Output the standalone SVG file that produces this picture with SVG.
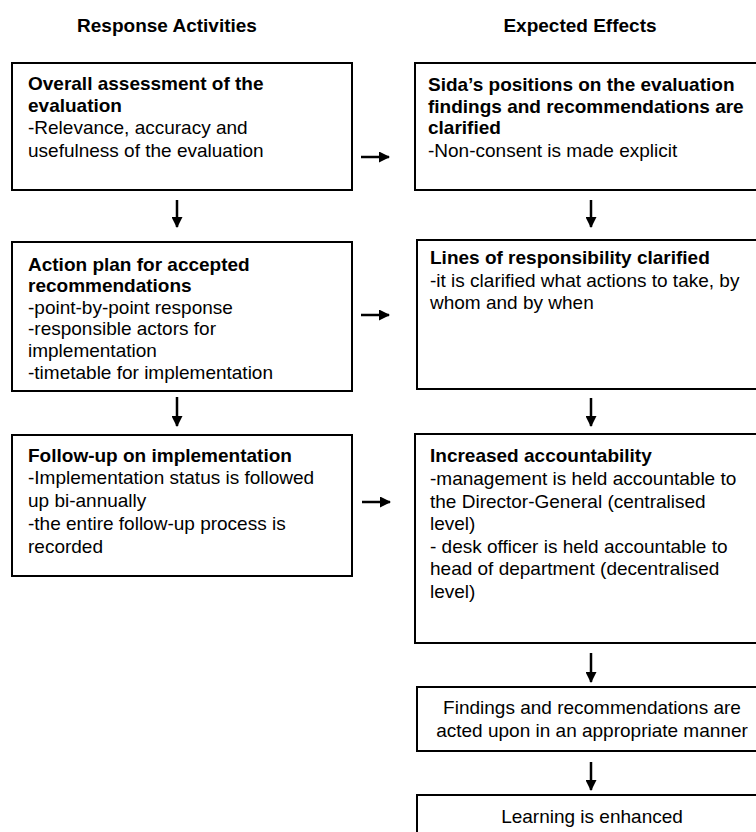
<svg xmlns="http://www.w3.org/2000/svg" width="756" height="832" viewBox="0 0 756 832">
<defs>
<style>
.box{fill:#fff;stroke:#000;stroke-width:2}
text{font-family:"Liberation Sans",Arial,sans-serif;font-size:19px;fill:#000}
.b{font-weight:bold}
.c{text-anchor:middle}
.arr{stroke:#000;stroke-width:2.5;fill:none;marker-end:url(#ah)}
</style>
<marker id="ah" markerWidth="11" markerHeight="11" refX="10" refY="5.5" orient="auto" markerUnits="userSpaceOnUse"><path d="M0,0 L11,5.5 L0,11 z" fill="#000"/></marker>
</defs>
<rect width="756" height="832" fill="#fff"/>
<g id="headers">
<text class="b c" x="167" y="32">Response Activities</text>
<text class="b c" x="580" y="32">Expected Effects</text>
</g>
<g id="n-assessment">
<rect class="box" x="12" y="63" width="340" height="127"/>
<text class="b" x="28" y="89.5">Overall assessment of the</text>
<text class="b" x="28" y="112">evaluation</text>
<text x="28" y="134">-Relevance, accuracy and</text>
<text x="28" y="156.5">usefulness of the evaluation</text>
</g>
<g id="n-actionplan">
<rect class="box" x="12" y="242" width="340" height="149"/>
<text class="b" x="28" y="271">Action plan for accepted</text>
<text class="b" x="28" y="292">recommendations</text>
<text x="28" y="313.5">-point-by-point response</text>
<text x="28" y="335">-responsible actors for</text>
<text x="28" y="357">implementation</text>
<text x="28" y="379">-timetable for implementation</text>
</g>
<g id="n-followup">
<rect class="box" x="12" y="435" width="340" height="141"/>
<text class="b" x="28" y="462">Follow-up on implementation</text>
<text x="28" y="484">-Implementation status is followed</text>
<text x="28" y="507">up bi-annually</text>
<text x="28" y="530">-the entire follow-up process is</text>
<text x="28" y="553">recorded</text>
</g>
<g id="n-positions">
<rect class="box" x="415" y="63" width="360" height="127"/>
<text class="b" x="428" y="90.5">Sida’s positions on the evaluation</text>
<text class="b" x="428" y="113">findings and recommendations are</text>
<text class="b" x="428" y="134">clarified</text>
<text x="428" y="157">-Non-consent is made explicit</text>
</g>
<g id="n-lines">
<rect class="box" x="417" y="240" width="360" height="149"/>
<text class="b" x="430" y="264">Lines of responsibility clarified</text>
<text x="430" y="287">-it is clarified what actions to take, by</text>
<text x="430" y="308.5">whom and by when</text>
</g>
<g id="n-accountability">
<rect class="box" x="415" y="434" width="360" height="209"/>
<text class="b" x="430" y="462">Increased accountability</text>
<text x="430" y="485">-management is held accountable to</text>
<text x="430" y="507.5">the Director-General (centralised</text>
<text x="430" y="530">level)</text>
<text x="430" y="553">- desk officer is held accountable to</text>
<text x="430" y="575">head of department (decentralised</text>
<text x="430" y="598">level)</text>
</g>
<g id="n-acted">
<rect class="box" x="417" y="687" width="350" height="64"/>
<text class="c" x="592" y="714">Findings and recommendations are</text>
<text class="c" x="592" y="737">acted upon in an appropriate manner</text>
</g>
<g id="n-learning">
<rect class="box" x="417" y="795" width="350" height="60"/>
<text class="c" x="592" y="823">Learning is enhanced</text>
</g>
<g id="connectors">
<line class="arr" x1="177" y1="200" x2="177" y2="227"/>
<line class="arr" x1="177" y1="397" x2="177" y2="426"/>
<line class="arr" x1="591" y1="200" x2="591" y2="227"/>
<line class="arr" x1="591" y1="398" x2="591" y2="426"/>
<line class="arr" x1="591" y1="653" x2="591" y2="682"/>
<line class="arr" x1="591" y1="762" x2="591" y2="790"/>
<line class="arr" x1="361" y1="157" x2="389" y2="157"/>
<line class="arr" x1="361" y1="315" x2="389" y2="315"/>
<line class="arr" x1="362" y1="502" x2="390" y2="502"/>
</g>
</svg>
